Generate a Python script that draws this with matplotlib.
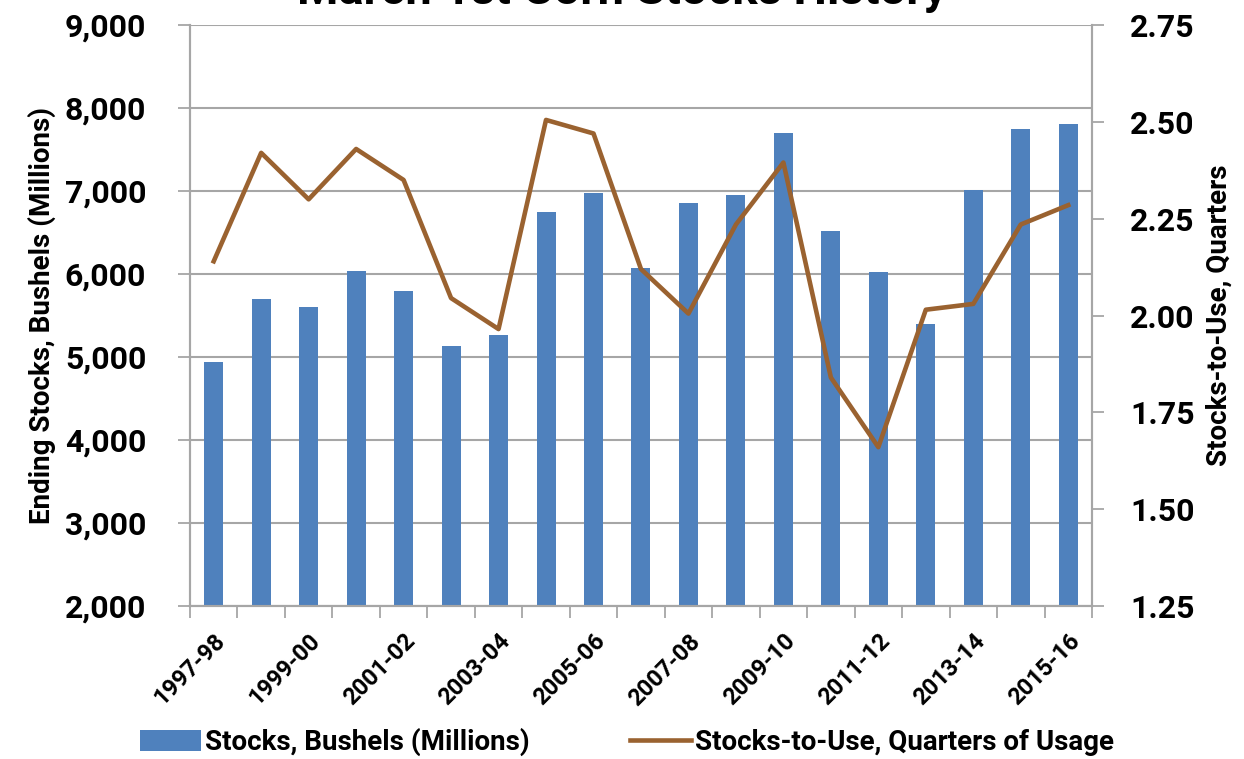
import numpy as np
import matplotlib
matplotlib.use("Agg")
import matplotlib.pyplot as plt

plt.rcParams['font.family'] = ['Liberation Sans Narrow', 'Roboto', 'DejaVu Sans']
plt.rcParams['font.weight'] = 'bold'

# marketing years 1997-98 .. 2015-16
seasons = ["1997-98", "1998-99", "1999-00", "2000-01", "2001-02", "2002-03", "2003-04",
           "2004-05", "2005-06", "2006-07", "2007-08", "2008-09", "2009-10", "2010-11",
           "2011-12", "2012-13", "2013-14", "2014-15", "2015-16"]
stocks = [4940, 5700, 5600, 6040, 5795, 5130, 5265, 6750, 6975, 6070,
          6855, 6950, 7700, 6520, 6025, 5400, 7010, 7750, 7810]
stocks_to_use = [2.14, 2.42, 2.30, 2.43, 2.35, 2.045, 1.965, 2.505, 2.47, 2.12,
                 2.005, 2.235, 2.395, 1.84, 1.66, 2.015, 2.03, 2.235, 2.285]

bar_color = "#4F81BD"
line_color = "#9A6230"
grid_color = "#A6A6A6"

fig = plt.figure(figsize=(12.44, 7.59), dpi=100)
ax = fig.add_axes([0.1527, 0.2016, 0.7251, 0.7654])
ax2 = ax.twinx()

x = np.arange(len(seasons))
bars = ax.bar(x, stocks, width=0.4, color=bar_color, zorder=2,
              label="Stocks, Bushels (Millions)")
line, = ax2.plot(x, stocks_to_use, color=line_color, lw=3.3,
                 label="Stocks-to-Use, Quarters of Usage")

ax.set_xlim(-0.5, len(seasons) - 0.5)
ax.set_ylim(2000, 9000)
ax.set_yticks(np.arange(2000, 9001, 1000))
ax.set_yticklabels([f"{v:,}" for v in range(2000, 9001, 1000)])
ax.yaxis.grid(True, color=grid_color, lw=1.5, zorder=0)
ax.set_axisbelow(True)

ax2.set_ylim(1.25, 2.75)
ax2.set_yticks(np.arange(1.25, 2.76, 0.25))
ax2.set_yticklabels([f"{v:.2f}" for v in np.arange(1.25, 2.76, 0.25)])

# labels every other season, tick marks on category boundaries
ax.set_xticks(x[::2])
ax.set_xticklabels(seasons[::2], rotation=45, ha="right", rotation_mode="anchor",
                   fontsize=17, fontweight="bold")
ax.set_xticks(np.arange(-0.5, len(seasons), 1), minor=True)
ax.tick_params(axis="x", which="major", length=0, pad=17)
ax.tick_params(axis="x", which="minor", length=8.5, color=grid_color, width=1.3)
ax.tick_params(axis="y", length=8.5, color=grid_color, width=1.3, labelsize=23, pad=23)
ax2.tick_params(axis="y", length=8.5, color=grid_color, width=1.3, labelsize=23, pad=19)

for a in (ax, ax2):
    for side in ("left", "right", "bottom"):
        a.spines[side].set_color(grid_color)
        a.spines[side].set_linewidth(1.5)
    a.spines["top"].set_visible(False)

ax.set_ylabel("Ending Stocks, Bushels (Millions)", fontsize=20, fontweight="bold", labelpad=6)
ax2.set_ylabel("Stocks-to-Use, Quarters", fontsize=20, fontweight="bold", labelpad=8)

fig.text(0.5, 0.983, "March 1st Corn Stocks History", ha="center", va="bottom",
         fontsize=34, fontweight="bold")

fig.legend(handles=[bars, line], loc="center", bbox_to_anchor=(0.504, 0.022), ncol=2,
           frameon=False, fontsize=20, handlelength=2.2, handleheight=0.8,
           columnspacing=3.6, handletextpad=0.15)

fig.savefig("out.png", dpi=100)
